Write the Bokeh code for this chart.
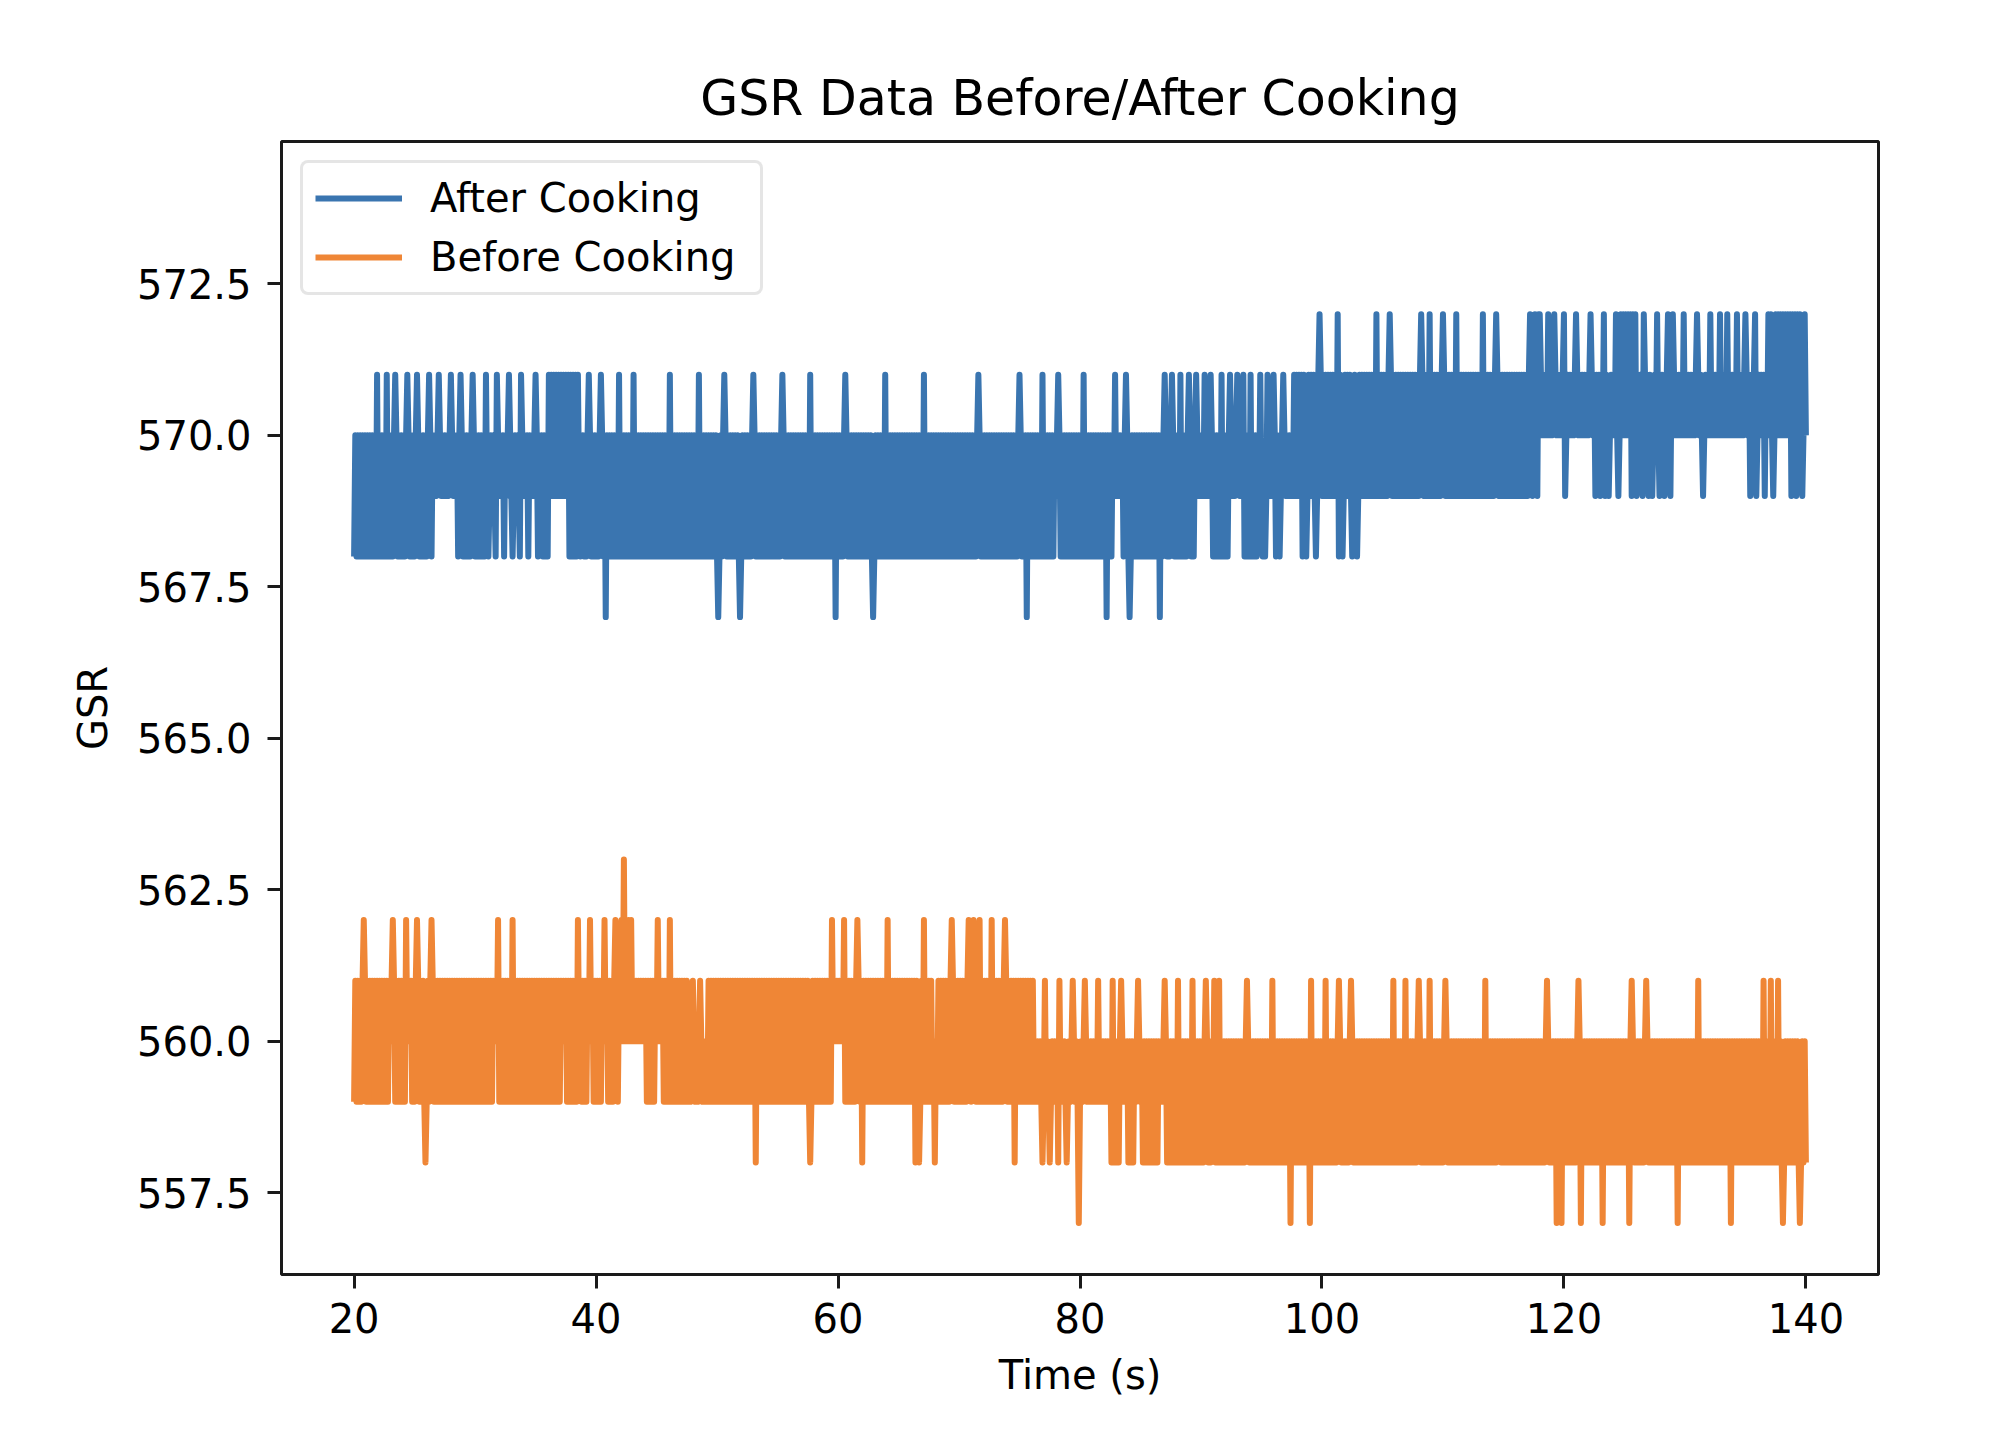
import numpy as np
from bokeh.plotting import figure
from bokeh.models import FixedTicker, PrintfTickFormatter, Legend, LegendItem, Range1d
from bokeh.embed import file_html
from bokeh.resources import INLINE

# ---------------- data ----------------
# sampling of the GSR recordings (s)
t_first, t_last, t_step = 20.0, 140.0, 0.1

x_ticks = [20, 40, 60, 80, 100, 120, 140]
y_ticks = [557.5, 560.0, 562.5, 565.0, 567.5, 570.0, 572.5]

# "After Cooking": base level ranges the signal flickers between
after_seg_t0 = [20.0, 97.6, 117.9]
after_seg_t1 = [97.6, 117.9, 140.0]
after_seg_lo = [569, 569, 570]
after_seg_hi = [570, 571, 571]
# stretches where an extra level is hit continually
after_ext_t0 = [20.0, 25.6, 28.5, 35.5, 37.7, 38.9, 39.7, 78.4, 83.5, 91.0, 93.6, 36.0, 124.3, 136.9]
after_ext_t1 = [25.4, 26.4, 30.8, 36.1, 38.5, 39.6, 77.8, 82.6, 89.7, 92.3, 94.6, 38.8, 125.9, 140.0]
after_ext_lv = [568, 568, 568, 568, 568, 568, 568, 568, 568, 568, 568, 571, 572, 572]
# single readings away from the band
after_spike_t = [21.9, 22.7, 23.4, 24.4, 25.2, 26.2, 27.0, 28.0, 28.8, 29.8, 30.9, 31.8, 32.8,
                 33.8, 35.0, 39.4, 40.4, 41.9, 43.1, 46.1, 48.5, 50.6, 53.0, 55.4, 57.7, 60.6,
                 63.9, 67.1, 71.6, 75.0, 76.9, 78.2, 80.3, 82.9, 83.8, 87.0, 87.6, 88.3, 89.0,
                 89.6, 90.3, 90.8, 91.7, 92.4, 93.0, 93.5, 94.1, 94.9, 95.5, 96.0, 96.8,
                 25.5, 31.1, 31.7, 32.4, 33.1, 33.7, 34.4, 35.2, 38.7, 95.1, 95.3, 96.2, 96.5,
                 98.4, 98.7, 99.5, 99.8, 101.4, 101.7, 102.5, 102.9,
                 40.8, 50.1, 51.9, 59.8, 62.9, 75.6, 82.2, 84.1, 86.6,
                 99.8, 101.3, 104.5, 105.6, 108.2, 108.9, 110.0, 111.1, 113.3, 114.4, 117.2,
                 117.6, 117.9, 118.7, 119.2, 120.0, 121.0, 122.2, 123.3, 126.6, 127.7, 128.6,
                 129.0, 129.9, 131.0, 132.1, 132.9, 133.5, 134.3, 135.0, 135.8,
                 118.0, 120.1, 122.6, 123.0, 123.4, 123.7, 124.5, 125.6, 126.0, 126.5, 127.0,
                 127.3, 127.9, 128.3, 128.8, 131.5, 135.4, 135.9, 137.3, 138.8, 139.2, 139.7,
                 136.6]
after_spike_v = [571] * 51 + [568] * 21 + [567] * 9 + [572] * 32 + [569] * 22 + [574]

# "Before Cooking"
before_seg_t0 = [20.0, 47.7, 49.2, 67.9, 68.3, 76.3]
before_seg_t1 = [47.7, 49.2, 67.9, 68.3, 76.3, 140.0]
before_seg_lo = [559, 559, 559, 559, 559, 559]
before_seg_hi = [561, 560, 561, 560, 561, 560]
before_ext_t0 = [42.0, 82.6, 83.9, 85.1, 87.1, 91.2, 91.8, 114.7, 126.9]
before_ext_t1 = [43.0, 83.2, 84.5, 86.4, 90.9, 91.6, 114.5, 126.7, 140.0]
before_ext_lv = [562, 558, 558, 558, 558, 558, 558, 558, 558]
# stretches where the lowest level is not reached
before_gap_t0 = [20.7, 22.9, 24.3, 31.6, 37.2, 38.5, 39.4, 40.6, 41.9, 43.8, 45.0, 59.5]
before_gap_t1 = [20.9, 23.1, 24.7, 31.8, 37.4, 38.7, 39.6, 40.8, 43.6, 44.0, 45.4, 60.5]
before_spike_t = [20.8, 23.2, 24.3, 25.2, 26.4, 31.9, 33.1, 38.5, 39.5, 40.7, 41.6, 45.1, 46.1,
                  59.5, 60.5, 61.6, 64.1, 67.1, 69.4, 70.8, 71.2, 71.7, 72.7, 73.8,
                  42.3,
                  48.0, 48.6, 77.1, 78.3, 79.4, 80.4, 81.5, 82.7, 83.4, 84.8, 87.0, 88.1, 89.3,
                  90.4, 91.1, 91.5, 93.8, 95.9, 99.1, 100.3, 101.4, 102.4, 105.9, 106.9, 108.0,
                  108.9, 110.2, 113.5, 118.6, 121.2, 125.6, 126.8, 131.1, 136.5, 137.1, 137.7,
                  25.9, 53.2, 57.7, 62.0, 66.4, 66.7, 68.0, 74.6, 76.9, 77.5, 78.2, 78.9,
                  79.9, 97.4, 99.0, 119.4, 119.8, 121.4, 123.2, 125.4, 129.4, 133.8, 138.1, 139.5]
before_spike_v = [562] * 24 + [563] + [561] * 36 + [558] * 12 + [557] * 12


def build(seg_t0, seg_t1, seg_lo, seg_hi, ext_t0, ext_t1, ext_lv,
          gap_t0, gap_t1, spike_t, spike_v):
    t = np.round(np.arange(t_first, t_last + t_step / 2, t_step), 2)
    n = len(t)
    lo = np.zeros(n)
    hi = np.zeros(n)
    for a, b, l, h in zip(seg_t0, seg_t1, seg_lo, seg_hi):
        m = (t >= a) & (t <= b)
        lo[m] = l
        hi[m] = h
    for a, b, lv in zip(ext_t0, ext_t1, ext_lv):
        m = (t >= a) & (t <= b)
        lo[m] = np.minimum(lo[m], lv)
        hi[m] = np.maximum(hi[m], lv)
    for a, b in zip(gap_t0, gap_t1):
        m = (t >= a) & (t <= b)
        lo[m] = lo[m] + 1
    # the sensor flickers between the band's edges from one reading to the next
    y = np.where(np.arange(n) % 2 == 0, lo, hi)
    for ts, v in zip(spike_t, spike_v):
        j = int(round((ts - t_first) / t_step))
        y[j] = v
    return t, y


ta, ya = build(after_seg_t0, after_seg_t1, after_seg_lo, after_seg_hi,
               after_ext_t0, after_ext_t1, after_ext_lv, [], [],
               after_spike_t, after_spike_v)
tb, yb = build(before_seg_t0, before_seg_t1, before_seg_lo, before_seg_hi,
               before_ext_t0, before_ext_t1, before_ext_lv,
               before_gap_t0, before_gap_t1, before_spike_t, before_spike_v)

# ---------------- figure ----------------
FONT = "DejaVu Sans"
INK = "#1a1a1a"

p = figure(width=1996, height=1420, output_backend="svg", toolbar_location=None,
           x_range=Range1d(14, 146), y_range=Range1d(556.15, 574.85),
           min_border_left=281, min_border_right=118, min_border_top=141,
           min_border_bottom=146)
p.background_fill_color = "white"
p.border_fill_color = "white"
p.outline_line_color = INK
p.outline_line_width = 3
p.xgrid.grid_line_color = None
p.ygrid.grid_line_color = None

p.title.text = "GSR Data Before/After Cooking"
p.title.align = "center"
p.title.text_font = FONT
p.title.text_font_size = "49px"
p.title.text_font_style = "normal"
p.title.text_color = "black"
p.title.standoff = 30

blue = p.line(ta, ya, line_color="#3a75b0", line_width=6, line_join="round")
orange = p.line(tb, yb, line_color="#ef8636", line_width=6, line_join="round")

p.xaxis.ticker = FixedTicker(ticks=x_ticks)
p.yaxis.ticker = FixedTicker(ticks=y_ticks)
p.yaxis.formatter = PrintfTickFormatter(format="%.1f")
p.xaxis.axis_label = "Time (s)"
p.yaxis.axis_label = "GSR"
for ax in (p.xaxis, p.yaxis):
    ax.axis_line_color = None
    ax.major_tick_out = 14
    ax.major_tick_in = 0
    ax.major_tick_line_width = 3
    ax.major_tick_line_color = INK
    ax.minor_tick_line_color = None
    ax.major_label_text_font = FONT
    ax.major_label_text_font_size = "40px"
    ax.major_label_text_color = "black"
    ax.axis_label_text_font = FONT
    ax.axis_label_text_font_size = "40px"
    ax.axis_label_text_font_style = "normal"
    ax.axis_label_text_color = "black"
p.xaxis.major_label_standoff = 14
p.yaxis.major_label_standoff = 16
p.xaxis.axis_label_standoff = 16
p.yaxis.axis_label_standoff = 18

legend = Legend(items=[LegendItem(label="After Cooking", renderers=[blue]),
                       LegendItem(label="Before Cooking", renderers=[orange])],
                location="top_left")
legend.margin = 19
legend.padding = 12
legend.spacing = 13
legend.glyph_width = 87
legend.glyph_height = 30
legend.label_standoff = 28
legend.label_width = 318
legend.label_text_font = FONT
legend.label_text_font_size = "40px"
legend.label_text_color = "black"
legend.border_line_color = "#cccccc"
legend.border_line_width = 3
legend.background_fill_color = "white"
legend.background_fill_alpha = 0.85
try:
    legend.border_radius = 8
except Exception:
    pass
p.add_layout(legend)

open("out.html", "w").write(file_html(p, INLINE))
